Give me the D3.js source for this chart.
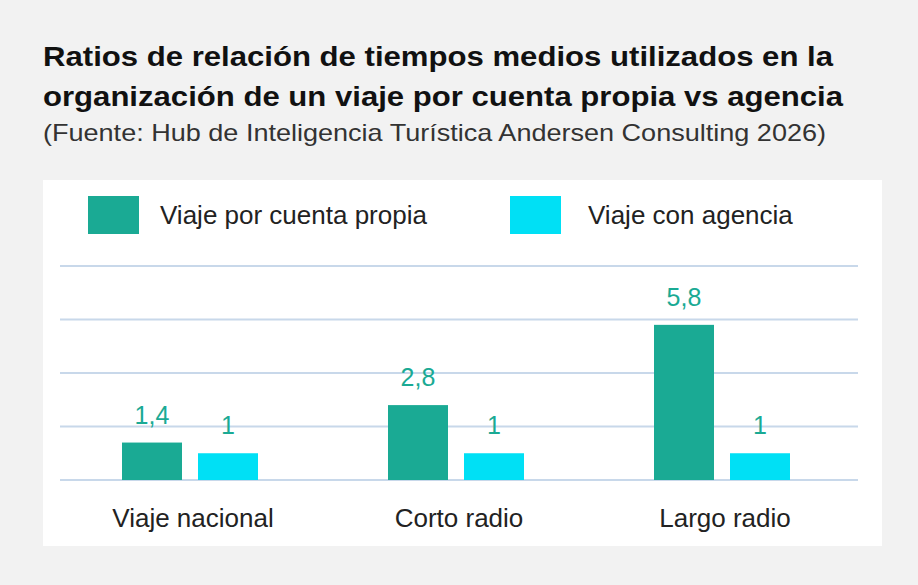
<!DOCTYPE html>
<html><head><meta charset="utf-8">
<script src="https://cdn.jsdelivr.net/npm/d3@7"></script>
<style>body{margin:0;background:#f2f2f2;font-family:"Liberation Sans",Arial,sans-serif}</style>
</head><body>
<svg id="chart" width="918" height="585"></svg>
<script>
// chart data
var categories = ["Viaje nacional", "Corto radio", "Largo radio"];
var seriesNames = ["Viaje por cuenta propia", "Viaje con agencia"];
var propia = [1.4, 2.8, 5.8];
var agencia = [1, 1, 1];
var gridTicks = [0, 2, 4, 6, 8];
var colors = ["#1aaa94", "#00e0f5"];

var svg = d3.select("#chart");
svg.append("rect").attr("width", 918).attr("height", 585).attr("fill", "#f2f2f2");

// title block
svg.append("text").attr("x", 43).attr("y", 66).attr("font-size", 28).attr("font-weight", "bold")
  .attr("textLength", 790).attr("lengthAdjust", "spacingAndGlyphs")
  .attr("fill", "#111").text("Ratios de relación de tiempos medios utilizados en la");
svg.append("text").attr("x", 43).attr("y", 106).attr("font-size", 28).attr("font-weight", "bold")
  .attr("textLength", 800).attr("lengthAdjust", "spacingAndGlyphs")
  .attr("fill", "#111").text("organización de un viaje por cuenta propia vs agencia");
svg.append("text").attr("x", 43).attr("y", 141).attr("font-size", 24)
  .attr("textLength", 783).attr("lengthAdjust", "spacingAndGlyphs")
  .attr("fill", "#333").text("(Fuente: Hub de Inteligencia Turística Andersen Consulting 2026)");

// white panel
svg.append("rect").attr("x", 43).attr("y", 180).attr("width", 839).attr("height", 366).attr("fill", "#fff");

// legend
var legX = [88, 510];
var legTextX = [160, 588];
seriesNames.forEach(function(n, i){
  svg.append("rect").attr("x", legX[i]).attr("y", 196).attr("width", 51).attr("height", 38).attr("fill", colors[i]);
  svg.append("text").attr("x", legTextX[i]).attr("y", 224).attr("font-size", 26).attr("fill", "#222").text(n);
});

var x = d3.scaleBand().domain(categories).range([60, 858]);
var y = d3.scaleLinear().domain([0, 8]).range([480, 266]);

svg.selectAll(".grid").data(gridTicks).enter().append("line")
  .attr("x1", 60).attr("x2", 858)
  .attr("y1", function(d){ return y(d); }).attr("y2", function(d){ return y(d); })
  .attr("stroke", "#c8d8ea").attr("stroke-width", 2);

var barW = 60;
[propia, agencia].forEach(function(vals, s){
  var off = s === 0 ? -71 : 5;
  var g = svg.append("g");
  g.selectAll("rect").data(vals).enter().append("rect")
    .attr("x", function(d, i){ return x(categories[i]) + x.bandwidth()/2 + off; })
    .attr("y", function(d){ return y(d); })
    .attr("width", barW)
    .attr("height", function(d){ return y(0) - y(d); })
    .attr("fill", colors[s]);
  g.selectAll("text").data(vals).enter().append("text")
    .attr("x", function(d, i){ return x(categories[i]) + x.bandwidth()/2 + off + barW/2; })
    .attr("y", function(d){ return y(d) - 19; })
    .attr("text-anchor", "middle").attr("font-size", 25).attr("fill", "#1aaa94")
    .text(function(d){ return String(d).replace(".", ","); });
});

svg.selectAll(".cat").data(categories).enter().append("text")
  .attr("x", function(d){ return x(d) + x.bandwidth()/2; })
  .attr("y", 527).attr("text-anchor", "middle").attr("font-size", 26).attr("fill", "#222")
  .text(function(d){ return d; });
</script>
</body></html>
